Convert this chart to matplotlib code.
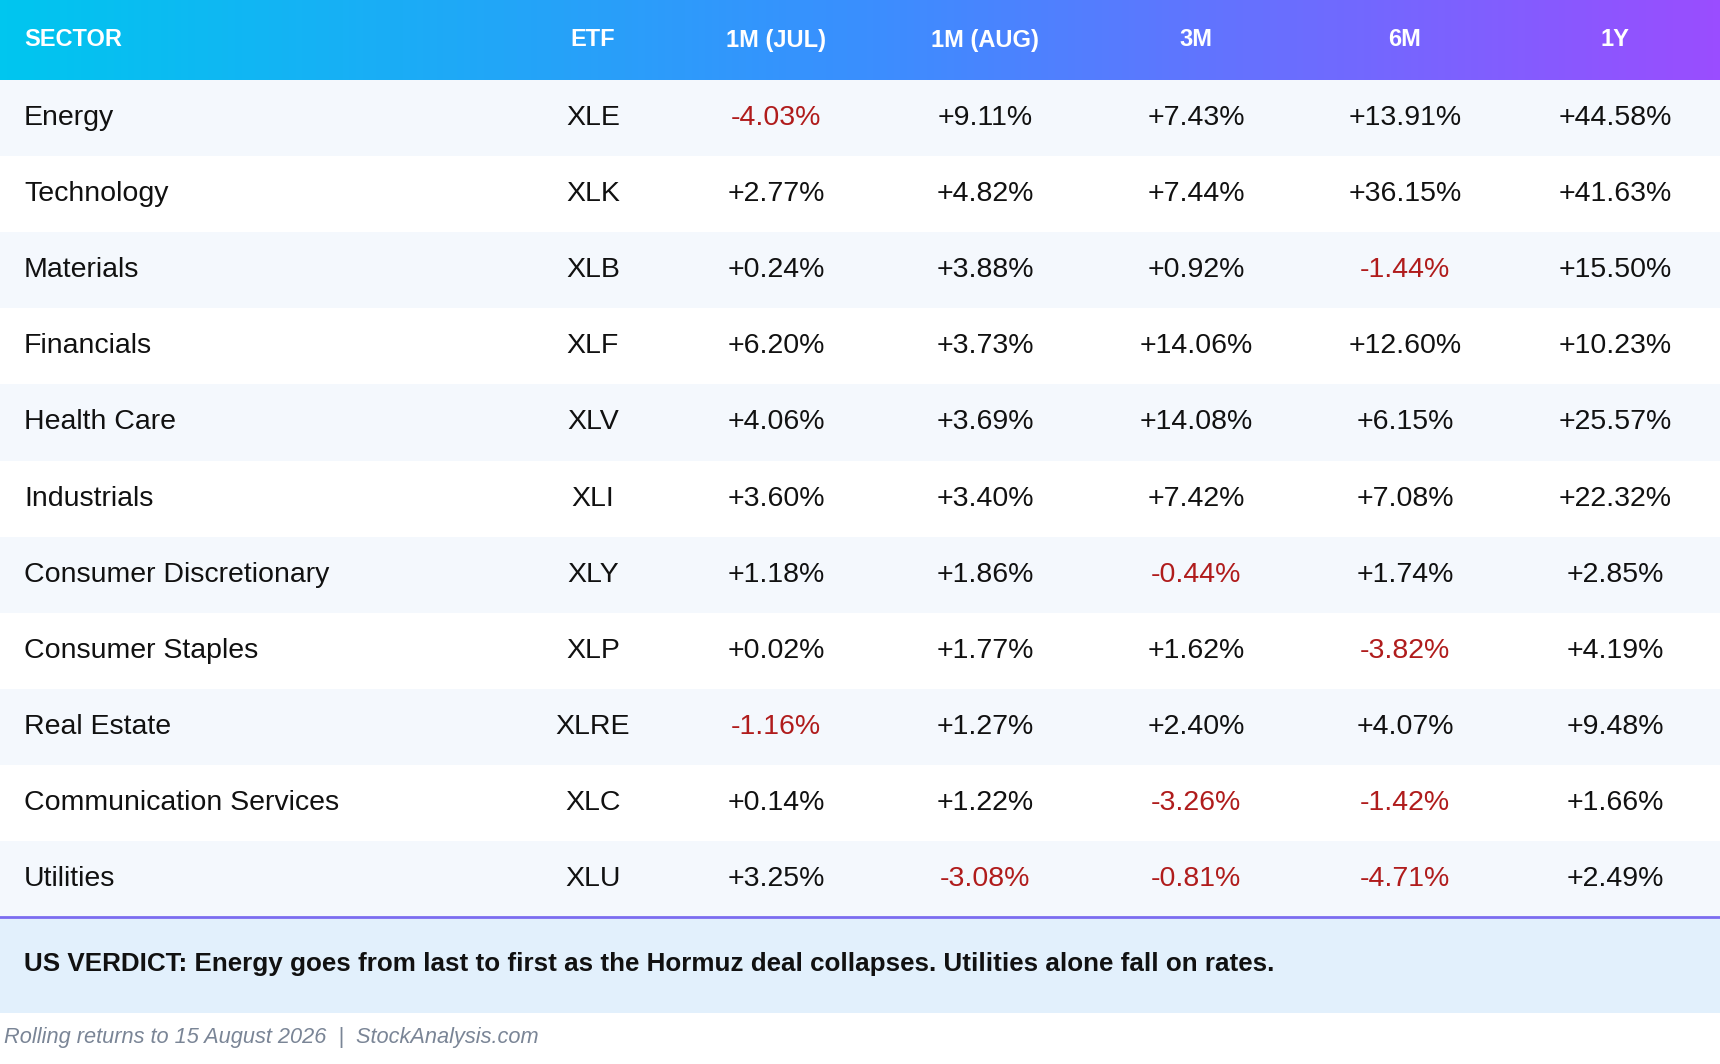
import numpy as np
import matplotlib.pyplot as plt
from matplotlib.colors import LinearSegmentedColormap

plt.rcParams['font.family'] = ['Liberation Sans', 'DejaVu Sans']

headers = ["SECTOR", "ETF", "1M (JUL)", "1M (AUG)", "3M", "6M", "1Y"]
sectors = ["Energy", "Technology", "Materials", "Financials", "Health Care", "Industrials",
           "Consumer Discretionary", "Consumer Staples", "Real Estate",
           "Communication Services", "Utilities"]
etfs = ["XLE", "XLK", "XLB", "XLF", "XLV", "XLI", "XLY", "XLP", "XLRE", "XLC", "XLU"]
m1_jul = [-4.03, 2.77, 0.24, 6.20, 4.06, 3.60, 1.18, 0.02, -1.16, 0.14, 3.25]
m1_aug = [9.11, 4.82, 3.88, 3.73, 3.69, 3.40, 1.86, 1.77, 1.27, 1.22, -3.08]
m3 = [7.43, 7.44, 0.92, 14.06, 14.08, 7.42, -0.44, 1.62, 2.40, -3.26, -0.81]
m6 = [13.91, 36.15, -1.44, 12.60, 6.15, 7.08, 1.74, -3.82, 4.07, -1.42, -4.71]
y1 = [44.58, 41.63, 15.50, 10.23, 25.57, 22.32, 2.85, 4.19, 9.48, 1.66, 2.49]
verdict = "US VERDICT: Energy goes from last to first as the Hormuz deal collapses. Utilities alone fall on rates."
source = "Rolling returns to 15 August 2026  |  StockAnalysis.com"

W, H = 1720, 1064
fig = plt.figure(figsize=(W / 100, H / 100), dpi=100)
ax = fig.add_axes([0, 0, 1, 1])
ax.set_xlim(0, W)
ax.set_ylim(H, 0)
ax.axis('off')

# gradient header
head_h = 80
cmap = LinearSegmentedColormap.from_list('hd', ['#00c6ef', '#3a8ffe', '#9a4dff'])
ax.imshow(np.linspace(0, 1, 256)[None, :], cmap=cmap, aspect='auto',
          extent=[0, W, head_h, 0])
col_x = [24, 593, 776, 985, 1196, 1405, 1615]
for i, h in enumerate(headers):
    ax.text(col_x[i], head_h / 2, h, color='white', fontsize=17, fontweight='bold',
            ha='left' if i == 0 else 'center', va='center')

row_h = 76.1
red = '#b01c1c'
for r in range(len(sectors)):
    y0 = head_h + r * row_h
    ax.add_patch(plt.Rectangle((0, y0), W, row_h, color='#f4f8fd' if r % 2 == 0 else 'white', lw=0))
    yc = y0 + row_h / 2
    ax.text(col_x[0], yc, sectors[r], fontsize=20.5, color='#111111', va='center', ha='left')
    ax.text(col_x[1], yc, etfs[r], fontsize=20.5, color='#111111', va='center', ha='center')
    for j, series in enumerate([m1_jul, m1_aug, m3, m6, y1]):
        v = series[r]
        ax.text(col_x[j + 2], yc, f"{v:+.2f}%", fontsize=20.5, va='center', ha='center',
                color=red if v < 0 else '#111111')

tab_end = head_h + len(sectors) * row_h
ax.add_patch(plt.Rectangle((0, tab_end), W, 96, color='#e2f0fc', lw=0))
ax.plot([0, W], [tab_end, tab_end], color='#7b6cf0', lw=2)
ax.text(24, tab_end + 47, verdict, fontsize=18.7, fontweight='bold', color='#111111',
        va='center', ha='left')
ax.text(4, 1037, source, fontsize=15.7, style='italic', color='#7a8596', va='center', ha='left')

fig.savefig('out.png', dpi=100)
